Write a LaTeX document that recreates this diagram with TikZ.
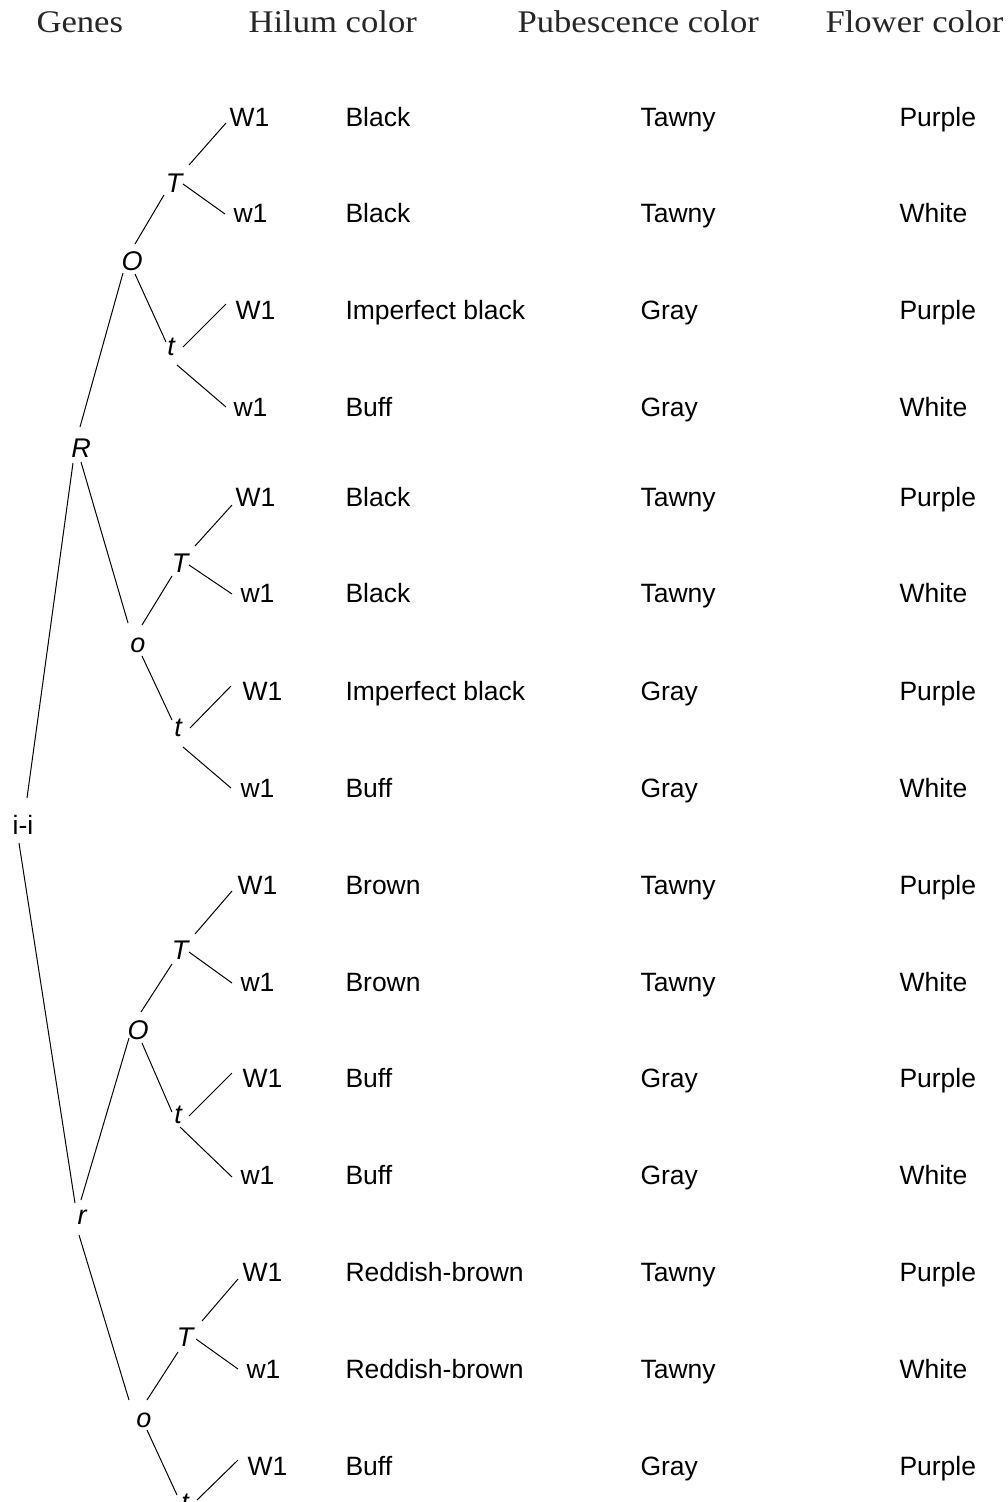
\documentclass[tikz,border=0pt]{standalone}
\usepackage{fontspec}
\setmainfont{Liberation Sans}
\newfontfamily\headfont[FakeStretch=1.1]{Liberation Serif}
\newcommand\myedge[6]{\draw ([shift={(#2,#3)}]#1) -- ([shift={(#5,#6)}]#4);}
\begin{document}
\begin{tikzpicture}[x=1pt,y=-1pt,line width=1pt,
  txt/.style={inner sep=0pt,font=\fontsize{26.5}{30}\selectfont,anchor=base west},
  gene/.style={inner sep=0pt,font=\fontsize{27}{30}\selectfont\itshape,anchor=center},
  root/.style={inner sep=0pt,font=\fontsize{26.5}{30}\selectfont,anchor=center},
  head/.style={inner sep=0pt,font=\headfont\fontsize{31.5}{34}\selectfont,anchor=base west,text=black!85}]
\clip (0,0) rectangle (1008,1502);
% headers
\node[head] (h1) at (36,32) {Genes};
\node[head] (h2) at (248,32) {Hilum color};
\node[head] (h3) at (517,32) {Pubescence color};
\node[head] (h4) at (825,32) {Flower color};
% internal gene nodes
\node[root] (ii) at (23,825) {i-i};
\node[gene] (R) at (81,448) {R};
\node[gene] (r) at (82,1217) {r};
\node[gene] (O1) at (132,261) {O};
\node[gene] (o2) at (138,645) {o};
\node[gene] (O3) at (138,1030) {O};
\node[gene] (o4) at (144,1420) {o};
\node[gene] (T1) at (174,183) {T};
\node[gene] (t1) at (171,347) {t};
\node[gene] (T2) at (180,563) {T};
\node[gene] (t2) at (178,728) {t};
\node[gene] (T3) at (180,950) {T};
\node[gene] (t3) at (178,1115) {t};
\node[gene] (T4) at (185,1337) {T};
\node[gene] (t4) at (185,1503) {t};
% leaves and phenotypes
\foreach \i/\y/\lx/\lab/\hc/\pc/\fc in {
  1/126.5/229/W1/Black/Tawny/Purple,
  2/222.5/233/w1/Black/Tawny/White,
  3/319.5/235/W1/Imperfect black/Gray/Purple,
  4/416.5/233/w1/Buff/Gray/White,
  5/506.5/235/W1/Black/Tawny/Purple,
  6/602.5/240/w1/Black/Tawny/White,
  7/700.5/242/W1/Imperfect black/Gray/Purple,
  8/797.5/240/w1/Buff/Gray/White,
  9/894.5/237/W1/Brown/Tawny/Purple,
  10/991.5/240/w1/Brown/Tawny/White,
  11/1087.5/242/W1/Buff/Gray/Purple,
  12/1184.5/240/w1/Buff/Gray/White,
  13/1281.5/242/W1/Reddish-brown/Tawny/Purple,
  14/1378.5/246/w1/Reddish-brown/Tawny/White,
  15/1475.5/247/W1/Buff/Gray/Purple}{
  \node[txt] (L\i) at (\lx,\y) {\lab};
  \node[txt] (H\i) at (345,\y) {\hc};
  \node[txt] (P\i) at (640,\y) {\pc};
  \node[txt] (F\i) at (899,\y) {\fc};
}
% connectors
\myedge{ii.center}{4}{-27}{R.center}{-8}{15}
\myedge{ii.center}{-4}{18}{r.center}{-7}{-14}
\myedge{R.center}{-1}{-21}{O1.center}{-9}{12}
\myedge{R.center}{0}{14}{o2.center}{-10}{-22}
\myedge{r.center}{-1}{-17}{O3.center}{-9}{8}
\myedge{r.center}{-3}{18}{o4.center}{-15}{-20}
% subtree 1
\myedge{O1.center}{3}{-17}{T1.center}{-10}{12}
\myedge{O1.center}{3}{13}{t1.center}{-5}{-5}
\myedge{T1.center}{15}{-18}{L1.base west}{-3}{-3.5}
\myedge{T1.center}{9}{1}{L2.base west}{-8}{-8.5}
\myedge{t1.center}{12}{0}{L3.base west}{-9}{-15.5}
\myedge{t1.center}{6}{18}{L4.base west}{-7}{-9.5}
% subtree 2
\myedge{o2.center}{4}{-20}{T2.center}{-8}{13}
\myedge{o2.center}{4}{11}{t2.center}{-6}{-8}
\myedge{T2.center}{15}{-17}{L5.base west}{-3}{-1.5}
\myedge{T2.center}{9}{2}{L6.base west}{-8}{-8.5}
\myedge{t2.center}{12}{0}{L7.base west}{-11}{-14.5}
\myedge{t2.center}{5}{19}{L8.base west}{-9}{-9.5}
% subtree 3
\myedge{O3.center}{3}{-18}{T3.center}{-8}{14}
\myedge{O3.center}{4}{13}{t3.center}{-6}{-3}
\myedge{T3.center}{15}{-16}{L9.base west}{-5}{-3.5}
\myedge{T3.center}{9}{2}{L10.base west}{-8}{-8.5}
\myedge{t3.center}{11}{1}{L11.base west}{-10}{-14.5}
\myedge{t3.center}{2}{12}{L12.base west}{-8}{-7.5}
% subtree 4
\myedge{o4.center}{3}{-20}{T4.center}{-7}{15}
\myedge{o4.center}{3}{10}{t4.center}{-8}{-8}
\myedge{T4.center}{17}{-16}{L13.base west}{-4}{-2.5}
\myedge{T4.center}{11}{2}{L14.base west}{-8}{-9.5}
\myedge{t4.center}{12}{-3}{L15.base west}{-9}{-15.5}
\end{tikzpicture}
\end{document}
